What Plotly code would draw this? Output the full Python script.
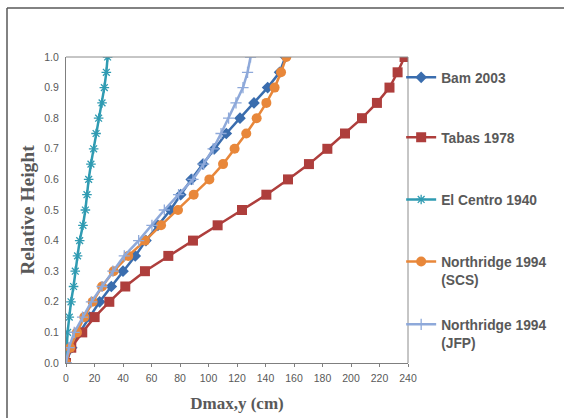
import plotly.graph_objects as go

heights = [0.0, 0.05, 0.1, 0.15, 0.2, 0.25, 0.3, 0.35, 0.4, 0.45, 0.5,
           0.55, 0.6, 0.65, 0.7, 0.75, 0.8, 0.85, 0.9, 0.95, 1.0]

bam_2003 = [0, 4, 9.6, 16.6, 23.6, 31.8, 40, 48.6, 56.1, 64.5, 73.2,
            80.5, 87.9, 96.1, 104.1, 112.5, 122.1, 131.9, 141.5, 149.9, 154]
tabas_1978 = [0, 3.7, 11.4, 20.1, 30.4, 41.6, 55.4, 71.8, 89.1, 106.4, 123.5,
              140.6, 155.8, 170.5, 183.4, 195.8, 207.7, 218.2, 227, 232.7, 237.6]
el_centro_1940 = [0, 0.5, 1.1, 2.3, 3.5, 5.3, 6.5, 8.1, 9.6, 11.9, 13.6,
                  14.7, 15.9, 17.5, 19.4, 21.1, 22.9, 25.3, 26.9, 28.3, 29.2]
northridge_scs = [0, 3, 7.7, 12.8, 18.7, 25.3, 33.4, 43.7, 55.4, 66.7, 78.6,
                  89.6, 100.6, 110.2, 118.3, 126.5, 133.8, 140.6, 146.4, 150.9, 154.6]
northridge_jfp = [0, 2, 5.8, 11.6, 17.8, 25.3, 32.9, 40.9, 51, 60.3, 69,
                  79, 89.1, 96.6, 103.2, 108.8, 114.1, 119.3, 124.2, 127.4, 129.5]

x_ticks = list(range(0, 241, 20))
y_ticks = [round(i * 0.1, 1) for i in range(11)]

series = [
    ("Bam 2003", bam_2003, "#3A6DAE", dict(symbol="diamond", size=9)),
    ("Tabas 1978", tabas_1978, "#AE3E3C", dict(symbol="square", size=10)),
    ("El Centro 1940", el_centro_1940, "#2F9BB2", dict(symbol="asterisk-open", size=8, line=dict(width=1.3, color="#2F9BB2"))),
    ("Northridge 1994<br>(SCS)", northridge_scs, "#E8873A", dict(symbol="circle", size=10)),
    ("Northridge 1994<br>(JFP)", northridge_jfp, "#8EA9DA", dict(symbol="cross-thin-open", size=8, line=dict(width=1.3, color="#8EA9DA"))),
]

# legend top positions (paper coords) for each entry
legend_tops = [0.984, 0.788, 0.585, 0.382, 0.177]
legend_names = ["legend", "legend2", "legend3", "legend4", "legend5"]

fig = go.Figure()
for i, (name, xs, color, mk) in enumerate(series):
    mk = dict(mk)
    mk["color"] = color
    fig.add_trace(go.Scatter(
        x=xs, y=heights, mode="lines+markers", name=f"<b>{name}</b>",
        legend=legend_names[i],
        line=dict(color=color, width=2.5), marker=mk,
    ))

axis_font = dict(family="Liberation Sans Narrow, Liberation Sans, Arial", size=10.5, color="#595959")

legend_common = dict(
    x=0.98, xanchor="left", yanchor="top",
    font=dict(family="Liberation Sans", size=13.8, color="#595959"),
    valign="top", itemwidth=30, bgcolor="rgba(0,0,0,0)",
)
legend_layout = {}
for ln, top in zip(legend_names, legend_tops):
    d = dict(legend_common)
    d["y"] = top
    legend_layout[ln] = d

fig.update_layout(
    width=564, height=418,
    margin=dict(l=66, r=156, t=57, b=55, autoexpand=False),
    paper_bgcolor="white", plot_bgcolor="white",
    showlegend=True,
    xaxis=dict(
        range=[0, 240], tickvals=x_ticks, showgrid=False, zeroline=False,
        showline=True, linecolor="#7f7f7f", linewidth=1, mirror=False,
        ticks="outside", ticklen=3, tickcolor="#7f7f7f", automargin=False,
        tickfont=axis_font, ticklabelstandoff=2,
        title=dict(text="<b>Dmax,y (cm)</b>",
                   font=dict(family="Liberation Serif, Times New Roman", size=17, color="#595959"),
                   standoff=14),
    ),
    yaxis=dict(
        range=[0, 1.0], tickvals=y_ticks, tickformat=".1f", showgrid=False, zeroline=False,
        showline=True, linecolor="#7f7f7f", linewidth=1, automargin=False,
        ticks="", tickfont=axis_font, ticklabelstandoff=4,
        title=dict(text="<b>Relative Height</b>",
                   font=dict(family="Liberation Serif, Times New Roman", size=19.5, color="#595959"),
                   standoff=4),
    ),
    shapes=[
        dict(type="line", xref="paper", yref="paper", x0=0, x1=1, y0=1, y1=1,
             line=dict(color="#8c8c8c", width=1)),
        dict(type="line", xref="paper", yref="paper", x0=1, x1=1, y0=0, y1=1,
             line=dict(color="#8c8c8c", width=1)),
        dict(type="line", xref="paper", yref="paper", x0=-59/342, x1=(564-66)/342,
             y0=1 + 49/306, y1=1 + 49/306, line=dict(color="#595959", width=1.5)),
        dict(type="line", xref="paper", yref="paper", x0=-59/342, x1=-59/342,
             y0=-55/306, y1=1 + 49/306, line=dict(color="#595959", width=1.5)),
    ],
    **legend_layout,
)

fig.write_html("out.html")
